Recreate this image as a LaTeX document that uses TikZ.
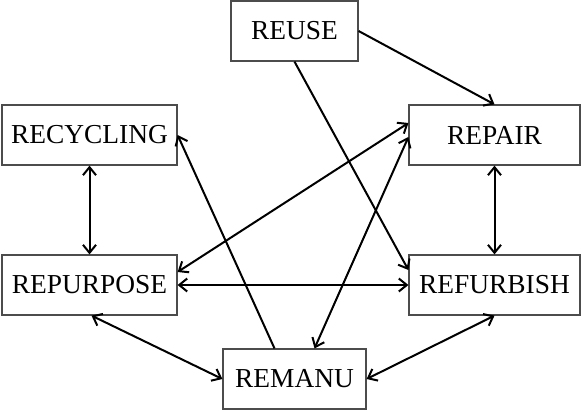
\documentclass[tikz,border=0pt]{standalone}
\usepackage{fontspec}
\setmainfont{Liberation Serif}
\usepackage{tikz}
\usetikzlibrary{arrows.meta}

\begin{document}
\begin{tikzpicture}[
  x=1bp, y=-1bp,
  stage/.style={draw=black!70, line width=1.2bp, fill=white, font=\fontsize{27.5}{30}\selectfont, minimum height=60bp, inner sep=0pt, align=center},
  flow/.style={line width=2bp, -{Straight Barb[length=8bp,width=13bp,line width=2bp]}},
  both/.style={line width=2bp, {Straight Barb[length=8bp,width=13bp,line width=2bp]}-{Straight Barb[length=8bp,width=13bp,line width=2bp]}}
]
\useasboundingbox (0,0) rectangle (584,411);

% Stages
\node[stage, minimum width=127bp] (reuse)     at (294.5, 31)  {REUSE};
\node[stage, minimum width=175bp] (recycling) at (89.5, 135)  {RECYCLING};
\node[stage, minimum width=171bp] (repair)    at (494.5, 135) {REPAIR};
\node[stage, minimum width=175bp] (repurpose) at (89.5, 285)  {REPURPOSE};
\node[stage, minimum width=171bp] (refurbish) at (494.5, 285) {REFURBISH};
\node[stage, minimum width=143bp] (remanu)    at (294.5, 379) {REMANU};

% One-way flows
\draw[flow] (reuse.east) -- (repair.north);
\draw[flow] (reuse.south) -- ([yshift=15bp]refurbish.west);
\draw[flow] ([xshift=-20bp]remanu.north) -- (recycling.east);

% Two-way flows
\draw[both] (recycling.south) -- (repurpose.north);
\draw[both] (repair.south) -- (refurbish.north);
\draw[both] ([yshift=13bp]repurpose.east) -- ([yshift=12bp]repair.west);
\draw[both] (repurpose.east) -- (refurbish.west);
\draw[both] ([yshift=-2bp]repair.west) -- ([xshift=20bp]remanu.north);
\draw[both] ([xshift=2bp]repurpose.south) -- (remanu.west);
\draw[both] (refurbish.south) -- (remanu.east);
\end{tikzpicture}
\end{document}
